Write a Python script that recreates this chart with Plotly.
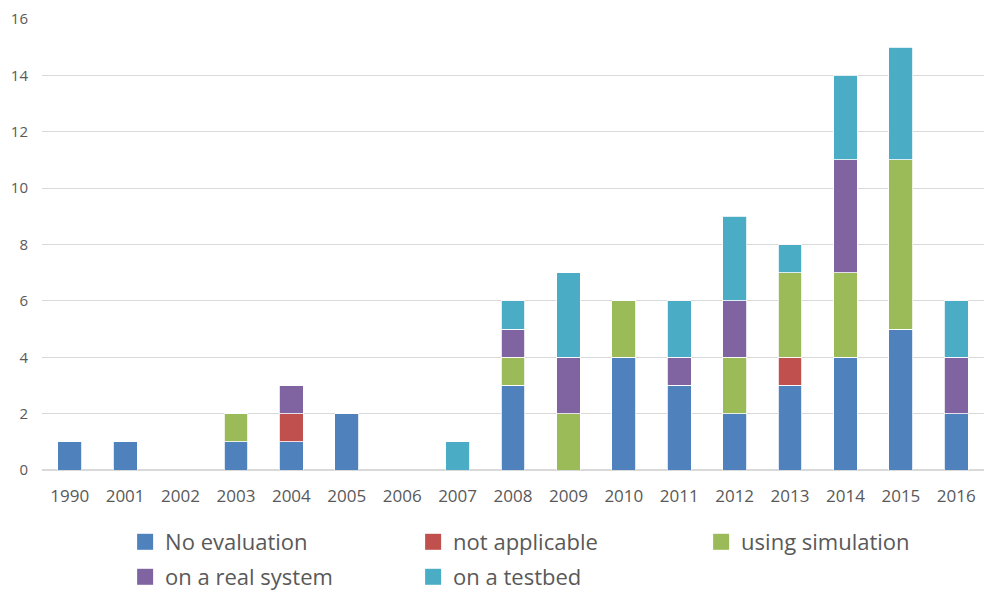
import plotly.graph_objects as go

years = ["1990", "2001", "2002", "2003", "2004", "2005", "2006", "2007", "2008",
         "2009", "2010", "2011", "2012", "2013", "2014", "2015", "2016"]
no_evaluation = [1, 1, 0, 1, 1, 2, 0, 0, 3, 0, 4, 3, 2, 3, 4, 5, 2]
not_applicable = [0, 0, 0, 0, 1, 0, 0, 0, 0, 0, 0, 0, 0, 1, 0, 0, 0]
using_simulation = [0, 0, 0, 1, 0, 0, 0, 0, 1, 2, 2, 0, 2, 3, 3, 6, 0]
on_real_system = [0, 0, 0, 0, 1, 0, 0, 0, 1, 2, 0, 1, 2, 0, 4, 0, 2]
on_testbed = [0, 0, 0, 0, 0, 0, 0, 1, 1, 3, 0, 2, 3, 1, 3, 4, 2]

series = [
    ("No evaluation", no_evaluation, "#4F81BD", "legend"),
    ("not applicable", not_applicable, "#C0504D", "legend"),
    ("using simulation", using_simulation, "#9BBB59", "legend"),
    ("on a real system", on_real_system, "#8064A2", "legend2"),
    ("on a testbed", on_testbed, "#4BACC6", "legend2"),
]

fig = go.Figure()
for name, vals, color, leg in series:
    fig.add_trace(go.Bar(
        x=years, y=vals, name=name, showlegend=False, legendgroup=name,
        marker=dict(color=color, line=dict(color="white", width=0.8)),
    ))
# legend entries (square swatches)
for name, vals, color, leg in series:
    fig.add_trace(go.Scatter(
        x=[None], y=[None], mode="markers", name=name, legend=leg,
        legendgroup=name, showlegend=True,
        marker=dict(symbol="square", size=16, color=color),
    ))

W, H = 976, 583
legend_common = dict(orientation="h", xref="container", yref="container",
                     x=0.12, xanchor="left", yanchor="middle",
                     entrywidth=243, entrywidthmode="pixels",
                     font=dict(size=22, color="#595959"), traceorder="normal",
                     bgcolor="rgba(0,0,0,0)")
fig.update_layout(
    barmode="stack",
    bargap=0.57,
    width=W, height=H,
    margin=dict(l=34, r=0, t=3, b=121),
    paper_bgcolor="white", plot_bgcolor="white",
    font=dict(family="Open Sans, Calibri, sans-serif", color="#595959"),
    xaxis=dict(type="category", showgrid=False, showline=False, ticks="",
               tickfont=dict(size=17), ticklabelstandoff=14),
    yaxis=dict(range=[0, 16], dtick=2, showgrid=True, gridcolor="#D9D9D9",
               gridwidth=1, zeroline=True, zerolinecolor="#D9D9D9",
               tickfont=dict(size=15), ticks="", ticklabelstandoff=13,
               ticklabeloverflow="allow"),
    legend=dict(legend_common, y=1 - 534 / H),
    legend2=dict(legend_common, y=1 - 569 / H),
    showlegend=True,
)

fig.write_html("out.html")
